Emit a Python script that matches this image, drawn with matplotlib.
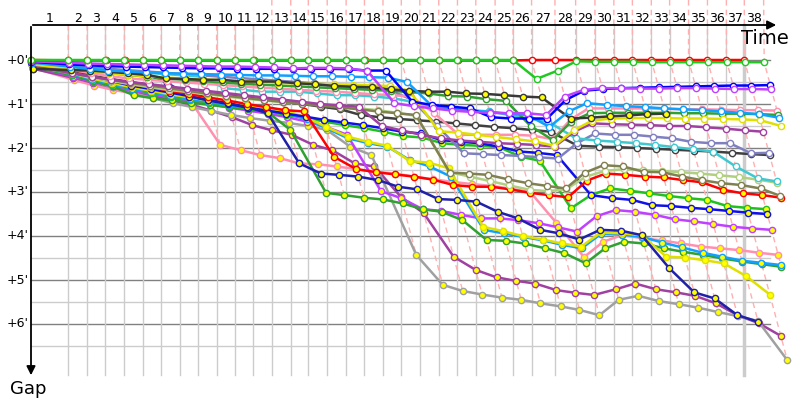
import numpy as np
import matplotlib
matplotlib.use("Agg")
import matplotlib.pyplot as plt

# leader lap times in seconds (lap 1 includes the start)
leader_lap_s = [191, 97, 94, 97, 95, 94, 95, 92, 97, 94,
                95, 94, 97, 90, 97, 97, 94, 95, 94, 95,
                97, 96, 94, 99, 92, 95, 120, 106, 99, 97,
                95, 97, 94, 97, 97, 97, 92, 99]

# gap to the leader in minutes, one value per lap starting at lap 0
gap_green1 = [0, 0, 0, 0, 0, 0, 0, 0, 0, 0, 0, 0, 0, 0, 0, 0, 0, 0, 0, 0,
              0, 0, 0, 0, 0, 0, 0.43, 0.24, 0.03, 0.04, 0.04, 0.04, 0.05, 0.05,
              0.05, 0.05, 0.05, 0.05, 0.05]
gap_red1 = [0, 0.01, 0.01, 0.01, 0.01, 0.01, 0.01, 0.01, 0.01, 0.01, 0.01, 0.01,
            0.01, 0.01, 0.01, 0.01, 0.01, 0.01, 0.01, 0.01, 0.01, 0.01, 0.01, 0.01,
            0.01, 0.01, 0, 0, 0, 0, 0, 0, 0, 0, 0, 0, 0, 0]
gap_magenta1 = [0.03, 0.06, 0.08, 0.09, 0.1, 0.11, 0.12, 0.13, 0.14, 0.15, 0.15, 0.16,
                0.17, 0.19, 0.18, 0.18, 0.19, 0.25, 0.98, 1.05, 1.1, 1.15, 1.18, 1.2,
                1.21, 1.21, 1.25, 0.83, 0.68, 0.64, 0.64, 0.65, 0.65, 0.64, 0.64, 0.65,
                0.66, 0.66, 0.67]
gap_blue1 = [0.04, 0.1, 0.12, 0.14, 0.15, 0.16, 0.17, 0.18, 0.19, 0.19, 0.2, 0.2,
             0.2, 0.2, 0.2, 0.2, 0.21, 0.24, 0.24, 0.95, 1.02, 1.06, 1.1, 1.3, 1.33,
             1.33, 1.33, 0.91, 0.7, 0.66, 0.64, 0.63, 0.62, 0.61, 0.6, 0.59, 0.58,
             0.58, 0.57]
gap_sky1 = [0.06, 0.15, 0.2, 0.24, 0.26, 0.28, 0.3, 0.31, 0.32, 0.33, 0.34, 0.35,
            0.35, 0.36, 0.37, 0.37, 0.38, 0.39, 0.4, 0.5, 1.05, 1.1, 1.15, 1.18, 1.22,
            1.25, 1.52, 1.17, 0.98, 1.02, 1.05, 1.07, 1.1, 1.12, 1.14, 1.17, 1.2,
            1.23, 1.31]
gap_black2 = [0.2, 0.23, 0.24, 0.27, 0.3, 0.34, 0.42, 0.43, 0.45, 0.45, 0.49, 0.49,
              0.49, 0.53, 0.55, 0.59, 0.61, 0.62, 0.67, 0.7, 0.72, 0.72, 0.76, 0.77,
              0.8, 0.83, 0.85, 1.33, 1.31, 1.28, 1.26, 1.23, 1.22]
gap_yellow1 = [0.1, 0.2, 0.26, 0.3, 0.34, 0.37, 0.4, 0.42, 0.44, 0.46, 0.48, 0.5,
               0.52, 0.53, 0.54, 0.55, 0.56, 0.58, 0.59, 0.7, 1.62, 1.65, 1.7, 1.75,
               1.8, 1.85, 1.95, 1.6, 1.38, 1.33, 1.32, 1.32, 1.32, 1.33, 1.33, 1.34,
               1.35, 1.37, 1.5]
gap_dkgreen1 = [0.08, 0.2, 0.25, 0.3, 0.34, 0.38, 0.42, 0.45, 0.48, 0.51, 0.54, 0.56,
                0.58, 0.6, 0.62, 0.64, 0.66, 0.68, 0.7, 0.73, 0.76, 0.82, 0.83, 0.89,
                0.93, 1.5, 1.82, 1.4, 1.21, 1.2, 1.2, 1.2, 1.2, 1.21, 1.21, 1.22, 1.22,
                1.23, 1.25]
gap_pink1 = [0.08, 0.22, 0.3, 0.37, 0.42, 0.45, 0.48, 0.51, 0.54, 0.57, 0.6, 0.63,
             0.65, 0.68, 0.7, 0.72, 0.75, 0.78, 0.8, 0.83, 1.2, 1.7, 1.7, 1.7, 1.7,
             1.72, 1.8, 1.35, 1.1, 1.1, 1.1, 1.1, 1.11, 1.12, 1.12, 1.13, 1.14, 1.14,
             1.15]
gap_cyan1 = [0.05, 0.15, 0.2, 0.23, 0.26, 0.29, 0.32, 0.35, 0.38, 0.64, 0.68, 0.72,
             0.72, 0.72, 0.76, 0.8, 0.8, 0.83, 0.87, 0.95, 1.06, 1.14, 1.14, 1.17,
             1.25, 1.33, 1.4, 1.78, 1.83, 1.86, 1.89, 1.93, 1.98, 2.03, 2.08, 2.42,
             2.69, 2.76]
gap_lavender1 = [0.05, 0.12, 0.16, 0.2, 0.23, 0.26, 0.29, 0.32, 0.35, 0.38, 0.41,
                 0.44, 0.47, 0.5, 0.53, 0.56, 0.6, 0.64, 0.7, 0.9, 1.5, 2.12, 2.14,
                 2.16, 2.18, 2.21, 2.24, 1.89, 1.67, 1.7, 1.7, 1.74, 1.78, 1.86, 1.89,
                 1.89, 2.12, 2.11]
gap_olive1 = [0.15, 0.3, 0.38, 0.45, 0.52, 0.58, 0.64, 0.7, 0.76, 0.81, 0.86, 0.91,
              0.95, 1.0, 1.04, 1.08, 1.12, 1.17, 1.21, 1.25, 2.56, 2.58, 2.61, 2.71,
              2.8, 2.86, 2.92, 2.56, 2.39, 2.42, 2.54, 2.55, 2.65, 2.73, 2.8, 2.84,
              2.92, 3.09]
gap_ltgreen1 = [0.15, 0.3, 0.4, 0.48, 0.55, 0.62, 0.68, 0.73, 0.78, 0.83, 0.88, 0.92,
                0.96, 0.98, 1.02, 1.06, 1.1, 1.14, 1.2, 1.27, 2.55, 2.65, 2.75, 2.85,
                2.95, 2.98, 2.94, 2.65, 2.52, 2.48, 2.5, 2.52, 2.55, 2.58, 2.62, 2.66,
                2.72, 2.79]
gap_black1 = [0.1, 0.28, 0.36, 0.43, 0.5, 0.57, 0.63, 0.69, 0.75, 0.8, 0.85, 0.9,
              0.95, 1.0, 1.06, 1.12, 1.25, 1.3, 1.34, 1.37, 1.4, 1.44, 1.48, 1.52,
              1.55, 1.59, 1.63, 1.95, 1.97, 1.98, 2.0, 2.02, 2.04, 2.06, 2.08, 2.11,
              2.14, 2.16]
gap_purple1 = [0.12, 0.3, 0.38, 0.45, 0.5, 0.55, 0.6, 0.65, 0.7, 0.75, 0.8, 0.85,
               0.9, 0.95, 1.0, 1.03, 1.06, 1.5, 1.6, 1.7, 1.78, 1.83, 1.86, 1.89,
               1.91, 1.93, 1.97, 1.63, 1.44, 1.46, 1.47, 1.48, 1.5, 1.5, 1.53, 1.56,
               1.6, 1.63]
gap_red2 = [0.1, 0.25, 0.35, 0.45, 0.55, 0.62, 0.7, 0.77, 0.85, 0.92, 1.0, 1.07,
            1.14, 1.17, 2.2, 2.48, 2.55, 2.6, 2.65, 2.72, 2.84, 2.88, 2.88, 2.94,
            3.02, 3.07, 3.12, 2.74, 2.58, 2.61, 2.65, 2.67, 2.73, 2.78, 2.95, 3.03,
            3.07, 3.13]
gap_navy2 = [0.05, 0.15, 0.2, 0.25, 0.28, 0.32, 0.52, 0.83, 0.91, 0.98, 1.07, 1.21,
             2.35, 2.58, 2.61, 2.65, 2.73, 2.88, 2.94, 3.16, 3.18, 3.22, 3.45, 3.6,
             3.86, 3.94, 4.08, 3.86, 3.88, 3.98, 4.73, 5.28, 5.42, 5.8, 5.95]
gap_blue2 = [0.1, 0.28, 0.38, 0.48, 0.58, 0.66, 0.74, 0.82, 0.92, 1.0, 1.08, 1.15,
             1.22, 1.29, 1.36, 1.42, 1.48, 1.55, 1.63, 1.67, 1.82, 1.86, 1.89, 1.97,
             2.08, 2.11, 2.16, 3.07, 3.14, 3.18, 3.3, 3.32, 3.36, 3.39, 3.43, 3.47,
             3.5]
gap_yellow2 = [0.12, 0.3, 0.42, 0.52, 0.62, 0.7, 0.78, 0.85, 0.92, 0.99, 1.05, 1.1,
               1.15, 1.3, 1.52, 1.74, 1.86, 1.95, 2.3, 2.33, 2.46, 3.79, 3.89, 4.0,
               4.08, 4.17, 4.24, 3.92, 3.94, 3.98, 4.47, 4.49, 4.55, 4.62, 4.91, 5.33]
gap_sky2 = [0.13, 0.32, 0.44, 0.55, 0.65, 0.73, 0.81, 0.88, 0.95, 1.02, 1.08, 1.14,
            1.2, 1.35, 1.55, 1.78, 1.89, 1.97, 2.27, 2.42, 2.65, 3.86, 3.94, 4.02,
            4.1, 4.2, 4.28, 3.95, 3.97, 4.02, 4.15, 4.26, 4.38, 4.47, 4.56, 4.61,
            4.66]
gap_green2 = [0.12, 0.33, 0.45, 0.56, 0.66, 0.75, 0.83, 0.9, 0.97, 1.04, 1.1, 1.16,
              1.25, 1.32, 1.4, 1.48, 1.55, 1.63, 1.73, 1.76, 1.89, 1.93, 1.95, 1.98,
              2.2, 2.29, 3.37, 3.07, 2.92, 2.97, 3.03, 3.09, 3.14, 3.18, 3.32, 3.36,
              3.39]
gap_dkgreen2 = [0.15, 0.35, 0.48, 0.6, 0.8, 0.87, 0.92, 0.97, 1.02, 1.07, 1.12, 1.18,
                1.59, 3.02, 3.07, 3.13, 3.17, 3.26, 3.39, 3.45, 3.64, 4.09, 4.11, 4.17,
                4.28, 4.39, 4.62, 4.28, 4.13, 4.17, 4.28, 4.36, 4.43, 4.51, 4.58, 4.64,
                4.7]
gap_magenta2 = [0.15, 0.38, 0.5, 0.6, 0.7, 0.78, 0.86, 0.94, 1.01, 1.08, 1.15, 1.22,
                1.3, 1.4, 1.52, 1.7, 2.98, 3.14, 3.39, 3.43, 3.52, 3.6, 3.6, 3.64,
                3.71, 3.8, 3.9, 3.55, 3.41, 3.45, 3.52, 3.62, 3.67, 3.73, 3.79, 3.83,
                3.86]
gap_gray2 = [0.12, 0.35, 0.5, 0.62, 0.75, 0.87, 0.98, 1.07, 1.16, 1.25, 1.32, 1.38,
             1.43, 1.5, 1.59, 1.97, 2.16, 4.43, 5.11, 5.25, 5.33, 5.4, 5.45, 5.53,
             5.6, 5.68, 5.8, 5.45, 5.36, 5.48, 5.55, 5.63, 5.73, 5.82, 5.93, 6.82]
gap_purple2 = [0.2, 0.4, 0.52, 0.62, 0.72, 0.82, 0.92, 1.02, 1.15, 1.3, 1.48, 1.6,
               1.7, 1.93, 2.05, 2.35, 2.42, 3.11, 3.48, 4.47, 4.77, 4.94, 5.02, 5.08,
               5.23, 5.29, 5.34, 5.21, 5.08, 5.21, 5.28, 5.36, 5.53, 5.8, 5.98, 6.27]
gap_pink2 = [0.18, 0.45, 0.58, 0.68, 0.76, 0.82, 0.88, 0.94, 1.93, 2.05, 2.16, 2.23,
             2.35, 2.37, 2.42, 2.48, 2.54, 2.58, 2.65, 2.71, 2.77, 2.82, 2.86, 2.92,
             3.0, 3.7, 4.48, 4.13, 3.98, 4.05, 4.1, 4.17, 4.24, 4.28, 4.32, 4.38, 4.43]

YEL = '#ffff00'
WHT = 'white'
# drawn first to last (leader on top)
cars = [
    (gap_pink2, '#ff90b0', YEL), (gap_purple2, '#a040a0', YEL),
    (gap_gray2, '#a0a0a0', YEL), (gap_magenta2, '#c040ff', YEL),
    (gap_dkgreen2, '#30a030', YEL), (gap_green2, '#20c020', YEL),
    (gap_sky2, '#10a0ff', YEL), (gap_yellow2, '#e0e000', YEL),
    (gap_blue2, '#1010e8', YEL), (gap_navy2, '#2020a8', YEL),
    (gap_red2, '#ff0000', YEL), (gap_black1, '#404040', WHT),
    (gap_ltgreen1, '#b0d080', WHT), (gap_olive1, '#808050', WHT),
    (gap_lavender1, '#8080c0', WHT), (gap_cyan1, '#40c8d0', WHT),
    (gap_purple1, '#a040a0', WHT), (gap_pink1, '#ff90b0', WHT),
    (gap_dkgreen1, '#30a030', WHT), (gap_yellow1, '#e0e000', WHT),
    (gap_black2, '#383838', YEL), (gap_sky1, '#10a0ff', WHT),
    (gap_blue1, '#0000ff', WHT), (gap_magenta1, '#c040ff', WHT),
    (gap_red1, '#ff0000', WHT), (gap_green1, '#22c822', WHT),
]

PXX, PXY = 11.7, 44.0     # pixels per minute (time, gap)
X0, Y0 = 31, 60           # pixel of race start and of zero gap


def px_x(p):
    return (p - X0) / PXX


def px_y(p):
    return (p - Y0) / PXY


lap_end = np.concatenate([[0], np.cumsum(leader_lap_s)]) / 60.0

fig = plt.figure(figsize=(8, 4), dpi=100)
ax = fig.add_axes([0, 0, 1, 1])
ax.set_xlim(px_x(0), px_x(800))
ax.set_ylim(px_y(400), px_y(0))
ax.axis('off')

# grid
for m in range(7):
    ax.plot([0, px_x(770)], [m, m], color='#808080', lw=1, zorder=1)
    ax.plot([0, px_x(770)], [m + 0.5, m + 0.5], color='#cccccc', lw=1, zorder=1)
    ax.text(px_x(7), m, "+%d'" % m, fontsize=9, ha='left', va='center')
for k in range(1, 38):
    ax.plot([lap_end[k]] * 2, [px_y(25), px_y(375)], color='#cccccc',
            lw=2.5 if k == 37 else 1, zorder=1)
for k in range(1, 39):
    ax.text((lap_end[k - 1] + lap_end[k]) / 2, px_y(19), str(k), fontsize=9,
            ha='center', va='center')

# same-lap connectors
for k in range(1, 39):
    pts = sorted((g[k], lap_end[k] + g[k]) for g, c, f in cars if len(g) > k)
    ys = [px_y(0 if k >= 12 else 25)] + [p[0] for p in pts]
    xs = [lap_end[k]] + [p[1] for p in pts]
    ax.plot(xs, ys, color='#ffb0b0', lw=1, ls=(0, (4, 3)), zorder=1.5)

# cars
for i, (g, c, f) in enumerate(cars):
    g = np.array(g)
    x = lap_end[:len(g)] + g
    ax.plot(x, g, '-o', color=c, lw=1.8, ms=4.5, mfc=f, mec=c, mew=1,
            zorder=2 + i * 0.01)

# axes arrows
ax.annotate('', xy=(px_x(779), px_y(25)), xytext=(px_x(30), px_y(25)),
            arrowprops=dict(arrowstyle='-|>', color='black', lw=1.3,
                            mutation_scale=13), zorder=3)
ax.annotate('', xy=(px_x(31), px_y(378)), xytext=(px_x(31), px_y(24)),
            arrowprops=dict(arrowstyle='-|>', color='black', lw=1.3,
                            mutation_scale=13), zorder=3)
ax.text(px_x(765), px_y(38), 'Time', fontsize=14, ha='center', va='center')
ax.text(px_x(28), px_y(389), 'Gap', fontsize=13, ha='center', va='center')

fig.savefig('out.png', dpi=100)
